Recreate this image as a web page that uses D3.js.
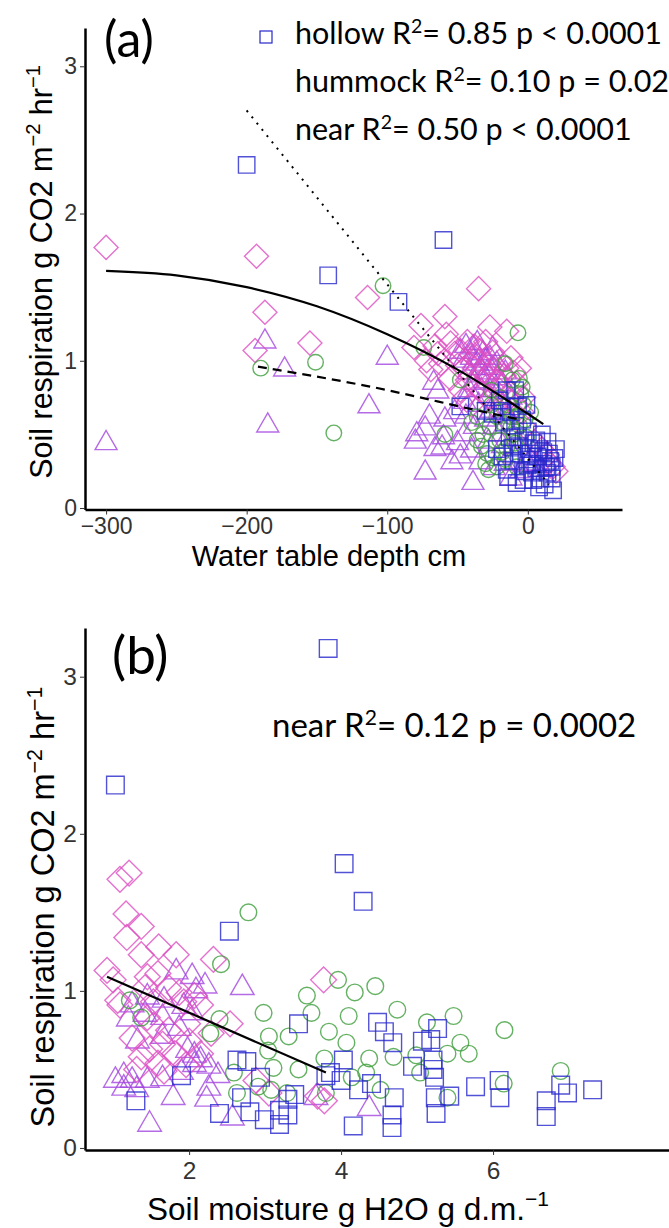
<!DOCTYPE html>
<html>
<head>
<meta charset="utf-8">
<script src="https://cdn.jsdelivr.net/npm/d3@7"></script>
<style>
  body { margin: 0; background: #fff; }
  .tick text { font-family: "Liberation Sans", Arial, sans-serif; fill: #333; }
  .axA .tick text { font-size: 23px; }
  .axB .tick text { font-size: 24.5px; }
  .tick line { stroke: #333; }
  .axis path.domain { stroke: #000; stroke-width: 2.5; }
  .title { font-family: "Liberation Sans", Arial, sans-serif; fill: #000; }
  .note { font-family: Lato, sans-serif; fill: #000; }
</style>
</head>
<body>
<div id="chart"></div>
<script>
/*
two stacked scatter panels: soil respiration vs water table depth (a)
and vs soil moisture (b)
*/

// panel (a): water table depth cm, respiration
var wtdSquares = [[-200,2.33],[-142,1.58],[-60,1.82],[-92,1.40],[-48,0.69],[-15,0.80],[-20,0.73],[-9,0.80],[-7,0.69],
    [-17,0.58],[-7,0.48],[-3,0.46],[4,0.44],[14,0.45],[-11,0.41],[-5,0.37],[2,0.37],[7,0.35],[15,0.37],[-15,0.26],
    [-14,0.21],[-8,0.17],[-3,0.19],[3,0.24],[4,0.19],[9,0.20],[12,0.16],[17,0.20],[17,0.28],[0,0.29],[-12,0.65],
    [-4,0.60],[0,0.52],[8,0.40],[11,0.30],[-1,0.33],[-10,0.32],[6,0.27],[14,0.24],[-25,0.64],[-30,0.66],[-18,0.35],
    [10,0.50],[19,0.34],[-22,0.40],[-13,0.48],[-6,0.42],[1,0.40],[6,0.46],[11,0.38],[16,0.32],[20,0.40],[3,0.30],
    [8,0.14],[13,0.28],[18,0.12],[-2,0.25],[-9,0.56],[-1,0.70],[-18,0.66]];
var wtdDiamonds = [[-300,1.77],[-193,1.71],[-187,1.33],[-194,1.07],[-155,1.12],[-114,1.43],[-35,1.49],[-59,1.30],
    [-76,1.24],[-27,1.23],[-15,1.20],[-81,1.09],[-55,1.12],[-43,1.13],[-30,1.13],[-69,0.94],[-62,0.98],[-48,1.07],
    [-40,1.04],[-34,1.07],[-25,1.06],[-55,0.88],[-43,0.87],[-36,0.82],[-29,0.90],[-22,0.86],[-3,0.75],[15,0.31],
    [14,0.36],[-20,1.00],[-15,0.95],[-10,0.92],[-38,0.95],[-32,0.78],[-26,0.74],[-18,0.70],[-12,0.78],[-45,0.75],
    [-50,0.97],[-8,0.85],[-4,0.65],[18,0.28],[10,0.40],[-28,0.98],[-20,0.80],[-35,1.00],[-52,1.05],[-66,1.10],[-72,1.00],
    [-45,0.95],[-38,1.10],[-32,0.92],[-24,0.94],[-17,0.90],[-12,1.02],[-6,0.95],[-28,0.84],[-20,0.66],[-14,0.74],
    [-40,0.70],[-48,0.80],[-58,1.18],[-64,1.05],[5,0.45],[20,0.25],[-2,0.55],[-8,0.70]];
var wtdTriangles = [[-300,0.44],[-187,1.13],[-173,0.94],[-185,0.56],[-113,0.69],[-100,1.02],[-67,0.85],[-64,0.79],
    [-73,0.54],[-79,0.50],[-59,0.60],[-60,0.48],[-50,0.44],[-61,0.41],[-54,0.31],[-48,0.35],[-40,0.39],[-73,0.24],
    [-39,0.17],[-24,0.27],[-34,0.31],[-48,1.06],[-39,1.09],[-32,1.05],[-46,1.00],[-36,0.98],[-29,0.92],[-42,0.92],
    [-35,0.90],[-30,1.00],[-25,0.95],[-22,0.88],[-18,0.84],[-38,0.85],[-33,0.80],[-28,0.76],[-42,0.80],[-20,0.72],
    [-26,0.66],[-35,0.70],[-14,0.62],[-30,0.60],[-44,0.62],[-20,0.50],[-28,0.45],[-10,0.35],[-16,0.30],[5,0.30],
    [10,0.26],[-36,1.12],[-44,1.10],[-25,1.08],[-40,1.02],[-34,0.95],[-27,1.02],[-22,0.98],[-16,0.92],[-31,0.86],
    [-24,0.80],[-12,0.75],[-45,0.72],[-52,0.65],[-38,0.55],[-24,0.55],[-18,0.42],[-45,0.50],[-66,0.40],[-80,0.45],
    [-12,0.20],[0,0.30],[-5,0.25],[-70,0.62]];
var wtdCircles = [[-190,0.95],[-151,0.99],[-138,0.51],[-103,1.51],[-74,1.09],[-7,1.19],[-16,0.98],[-11,0.87],
    [-6,0.88],[-5,0.77],[-59,0.50],[-29,0.37],[-25,0.34],[-36,0.46],[-20,0.46],[-15,0.41],[-12,0.55],[-27,0.55],
    [-22,0.62],[-48,0.87],[-30,0.30],[-22,0.28],[-18,0.38],[-10,0.50],[-8,0.62],[-3,0.70],[-32,0.50],[-40,0.58],
    [-14,0.70],[-26,0.80],[-18,0.58],[-6,0.56],[-2,0.60],[-33,0.42],[-9,0.44],[-26,0.70],[-20,0.75],[-12,0.62],
    [-4,0.82],[-1,0.48],[-16,0.33],[-8,0.28],[-36,0.62],[-28,0.26],[2,0.65]];

// fitted lines panel (a)
var wtdFitSolid = [[-300,1.61],[-250,1.58],[-200,1.50],[-150,1.37],[-100,1.18],[-50,0.94],[0,0.64],[11,0.57]];
var wtdFitDotted = [[-200,2.70],[15,0.16]];
var wtdFitDashed = [[-192,0.96],[-115,0.83],[-25,0.64],[-5,0.60]];

// panel (b): soil moisture g H2O g d.m.-1, respiration
var smSquares = [[3.83,3.18],[1.03,2.31],[4.04,1.81],[4.29,1.57],[2.53,1.38],[3.44,0.79],[4.48,0.80],[4.57,0.74],
    [4.68,0.67],[5.27,0.76],[5.07,0.68],[5.18,0.69],[2.63,0.56],[2.76,0.55],[4.03,0.56],[3.86,0.48],[3.80,0.46],
    [4.00,0.43],[4.40,0.41],[4.23,0.37],[4.94,0.52],[5.21,0.56],[5.21,0.50],[5.23,0.45],[5.77,0.39],[6.08,0.43],
    [6.09,0.32],[6.89,0.40],[6.98,0.35],[7.31,0.37],[6.70,0.30],[6.70,0.20],[5.43,0.33],[5.24,0.32],[5.25,0.22],
    [4.70,0.32],[4.67,0.21],[4.67,0.13],[4.16,0.14],[3.39,0.34],[3.30,0.31],[3.19,0.24],[3.30,0.21],[3.19,0.15],
    [2.99,0.18],[2.80,0.23],[2.69,0.32],[2.40,0.22],[2.94,0.45],[1.90,0.46],[1.30,0.30]];
var smDiamonds = [[1.09,1.71],[1.21,1.75],[1.17,1.49],[1.37,1.41],[1.18,1.34],[1.60,1.28],[1.37,1.23],[1.83,1.23],
    [2.32,1.20],[0.92,1.13],[1.00,1.07],[3.77,1.07],[1.06,0.94],[1.45,1.09],[1.59,1.11],[1.42,1.02],[1.73,1.02],
    [1.87,0.99],[2.07,0.97],[2.15,0.91],[1.93,0.93],[1.53,0.93],[1.09,0.91],[1.45,0.83],[1.53,0.78],[1.73,0.75],
    [1.98,0.79],[2.29,0.73],[2.54,0.79],[1.37,0.58],[1.59,0.54],[1.81,0.60],[2.15,0.60],[1.96,0.53],[1.67,0.49],
    [1.31,0.50],[2.88,0.43],[3.05,0.35],[3.78,0.30],[3.69,0.33],[1.25,0.70],[1.65,0.66],[2.00,0.68],[1.48,0.63]];
var smTriangles = [[1.83,1.12],[2.04,1.09],[2.21,1.03],[2.70,1.02],[1.25,0.91],[1.45,0.96],[1.67,0.94],[1.93,0.90],
    [2.09,1.00],[1.20,0.82],[1.42,0.85],[1.65,0.83],[1.87,0.76],[2.04,0.86],[1.32,0.68],[1.65,0.71],[1.98,0.62],
    [2.07,0.59],[2.15,0.56],[2.07,0.53],[2.26,0.52],[1.90,0.48],[1.14,0.46],[1.25,0.43],[1.45,0.43],[1.14,0.38],
    [1.31,0.37],[1.65,0.44],[1.79,0.32],[2.26,0.38],[2.23,0.31],[2.38,0.46],[2.57,0.19],[1.48,0.15],[3.67,0.32],
    [4.37,0.25],[1.03,0.43]];
var smCircles = [[2.78,1.50],[2.42,1.17],[3.96,1.07],[4.45,1.03],[4.18,0.99],[3.55,0.97],[2.98,0.86],[3.61,0.86],
    [4.74,0.88],[4.10,0.84],[5.13,0.80],[5.48,0.84],[1.22,0.94],[6.15,0.75],[3.84,0.74],[3.31,0.71],[3.05,0.71],
    [4.07,0.67],[3.04,0.62],[5.57,0.67],[5.68,0.60],[5.40,0.60],[4.99,0.59],[4.69,0.58],[4.37,0.57],[3.78,0.57],
    [3.44,0.50],[3.11,0.51],[2.59,0.48],[5.04,0.48],[4.33,0.48],[4.14,0.45],[6.89,0.49],[6.14,0.41],[2.91,0.39],
    [3.08,0.37],[3.29,0.35],[2.63,0.35],[3.80,0.35],[4.52,0.37],[5.40,0.32],[2.40,0.82],[1.37,0.83],[2.28,0.73]];
var smFitSolid = [[0.92,1.09],[3.80,0.48]];

var yTicks = [0, 1, 2, 3];
var wtdTicks = [-300, -200, -100, 0];
var smTicks = [2, 4, 6];

var width = 669, height = 1228;

var svg = d3.select("#chart").append("svg")
    .attr("width", width)
    .attr("height", height);

// marker shapes
var diamondType = {
    draw: function (ctx, size) {
        var r = Math.sqrt(size / 2);
        ctx.moveTo(0, -r);
        ctx.lineTo(r, 0);
        ctx.lineTo(0, r);
        ctx.lineTo(-r, 0);
        ctx.closePath();
    }
};
var markers = {
    square: { type: d3.symbolSquare, size: 270, color: "#2727cc" },
    diamond: { type: diamondType, size: 290, color: "#dd4fc2" },
    triangle: { type: d3.symbolTriangle, size: 210, color: "#a246e0" },
    circle: { type: d3.symbolCircle, size: 190, color: "#3f9e3c" }
};

function drawPoints(g, data, kind, xs, ys, k) {
    var m = markers[kind];
    g.selectAll(".pt-" + kind)
        .data(data)
        .enter().append("path")
        .attr("class", "pt-" + kind)
        .attr("d", d3.symbol().type(m.type).size(m.size * k))
        .attr("transform", function (d) {
            return "translate(" + xs(d[0]) + "," + ys(d[1]) + ")";
        })
        .attr("fill", "none")
        .attr("stroke", m.color)
        .attr("stroke-width", 1.4)
        .attr("stroke-opacity", 0.8);
}

function drawLine(g, data, xs, ys, dash) {
    var line = d3.line()
        .x(function (d) { return xs(d[0]); })
        .y(function (d) { return ys(d[1]); })
        .curve(d3.curveMonotoneX);
    var p = g.append("path")
        .datum(data)
        .attr("d", line)
        .attr("fill", "none")
        .attr("stroke", "#000")
        .attr("stroke-width", 2.2);
    if (dash) p.attr("stroke-dasharray", dash);
    return p;
}

function yTitle(x, cy, fs) {
    var t = svg.append("text")
        .attr("class", "title")
        .attr("font-size", fs + "px")
        .attr("text-anchor", "middle")
        .attr("transform", "translate(" + x + "," + cy + ") rotate(-90)");
    t.append("tspan").text("Soil respiration g CO2 m");
    t.append("tspan").attr("dy", -fs * 0.38).attr("font-size", fs * 0.66 + "px").text("\u22122");
    t.append("tspan").attr("dy", fs * 0.38).text(" hr");
    t.append("tspan").attr("dy", -fs * 0.38).attr("font-size", fs * 0.66 + "px").text("\u22121");
}

function note(x, y, fs, label, rest) {
    var t = svg.append("text").attr("class", "note").attr("x", x).attr("y", y)
        .attr("font-size", fs + "px");
    t.append("tspan").text(label + " R");
    t.append("tspan").attr("dy", -fs * 0.36).attr("font-size", fs * 0.64 + "px").text("2");
    t.append("tspan").attr("dy", fs * 0.36).text(rest);
}

/*
panel (a)
*/
var xA = d3.scaleLinear().domain([-315, 67]).range([85, 622]);
var yA = d3.scaleLinear().domain([-0.01, 3.26]).range([509.5, 28]);

svg.append("g")
    .attr("class", "axis axA")
    .attr("transform", "translate(0," + yA.range()[0] + ")")
    .call(d3.axisBottom(xA).tickValues(wtdTicks).tickSize(5).tickSizeOuter(0).tickPadding(3)
        .tickFormat(d3.format("d")));
svg.append("g")
    .attr("class", "axis axA")
    .attr("transform", "translate(" + xA.range()[0] + ",0)")
    .call(d3.axisLeft(yA).tickValues(yTicks).tickSize(5).tickSizeOuter(0).tickPadding(3)
        .tickFormat(d3.format("d")));

var panelA = svg.append("g");
drawPoints(panelA, wtdTriangles, "triangle", xA, yA, 1);
drawPoints(panelA, wtdDiamonds, "diamond", xA, yA, 1);
drawPoints(panelA, wtdCircles, "circle", xA, yA, 1);
drawPoints(panelA, wtdSquares, "square", xA, yA, 1);
drawLine(panelA, wtdFitSolid, xA, yA, null);
drawLine(panelA, wtdFitDashed, xA, yA, "9,6");
drawLine(panelA, wtdFitDotted, xA, yA, "2,6").attr("stroke-width", 2);

svg.append("text").attr("class", "title").attr("x", 329).attr("y", 566)
    .attr("font-size", "29px").attr("text-anchor", "middle").text("Water table depth cm");
yTitle(52, 272, 30.5);

svg.append("text").attr("class", "note").attr("x", 104).attr("y", 57)
    .attr("font-size", "50px").text("(a)");

// legend key for hollow
svg.append("rect").attr("x", 260).attr("y", 31).attr("width", 12).attr("height", 12)
    .attr("fill", "none").attr("stroke", markers.square.color).attr("stroke-width", 1.2);
note(295, 44, 30.5, "hollow", "= 0.85 p < 0.0001");
note(295, 92, 30.5, "hummock", "= 0.10 p = 0.02");
note(295, 140, 30.5, "near", "= 0.50 p < 0.0001");

/*
panel (b)
*/
var xB = d3.scaleLinear().domain([0.63, 8.46]).range([85, 680]);
var yB = d3.scaleLinear().domain([-0.013, 3.31]).range([1150, 628]);

svg.append("g")
    .attr("class", "axis axB")
    .attr("transform", "translate(0," + yB.range()[0] + ")")
    .call(d3.axisBottom(xB).tickValues(smTicks).tickSize(5).tickSizeOuter(0).tickPadding(7)
        .tickFormat(d3.format("d")));
svg.append("g")
    .attr("class", "axis axB")
    .attr("transform", "translate(" + xB.range()[0] + ",0)")
    .call(d3.axisLeft(yB).tickValues(yTicks).tickSize(5).tickSizeOuter(0).tickPadding(3)
        .tickFormat(d3.format("d")));

var panelB = svg.append("g");
drawPoints(panelB, smTriangles, "triangle", xB, yB, 1.15);
drawPoints(panelB, smDiamonds, "diamond", xB, yB, 1.15);
drawPoints(panelB, smCircles, "circle", xB, yB, 1.15);
drawPoints(panelB, smSquares, "square", xB, yB, 1.15);
drawLine(panelB, smFitSolid, xB, yB, null);

var tb = svg.append("text").attr("class", "title").attr("x", 348).attr("y", 1220)
    .attr("font-size", "31.5px").attr("text-anchor", "middle");
tb.append("tspan").text("Soil moisture g H2O g d.m.");
tb.append("tspan").attr("dy", -14).attr("font-size", "21px").text("\u22121");
yTitle(54, 907, 32.5);

svg.append("text").attr("class", "note").attr("x", 112).attr("y", 674)
    .attr("font-size", "53px").text("(b)");
note(272, 737, 33, "near", "= 0.12 p = 0.0002");
</script>
</body>
</html>
